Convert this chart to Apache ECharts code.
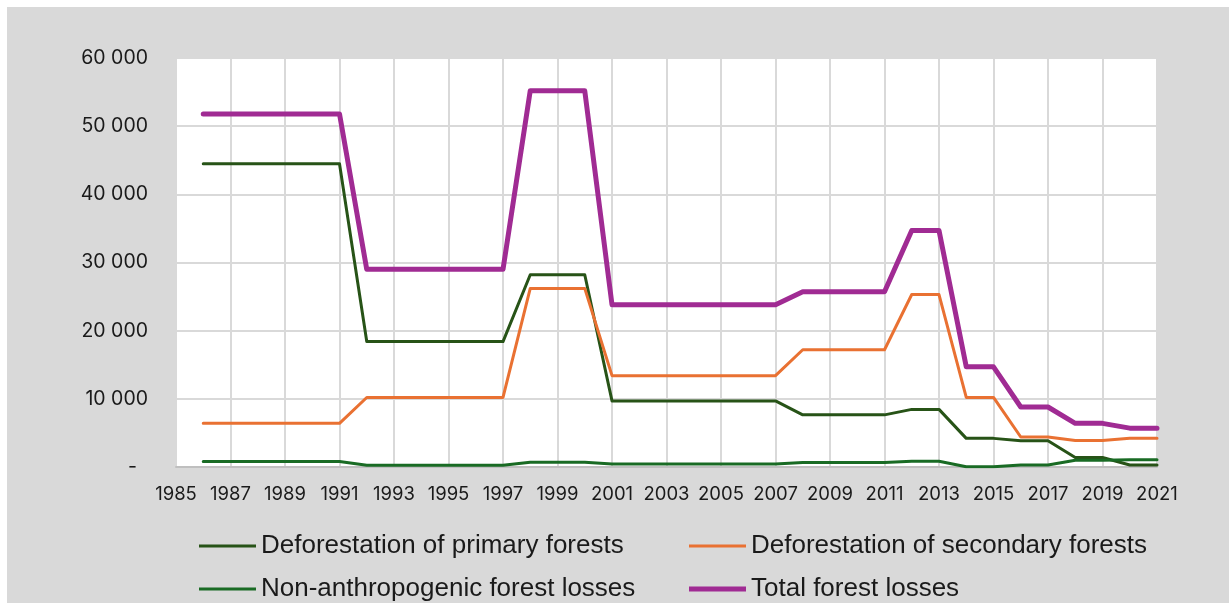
<!DOCTYPE html>
<html>
<head>
<meta charset="utf-8">
<script src="https://cdn.jsdelivr.net/npm/echarts@6/dist/echarts.min.js"></script>
<style>
html,body{margin:0;padding:0;background:#ffffff;}
#chart{width:1229px;height:603px;}
</style>
</head>
<body>
<div id="chart"></div>
<script>
const years = [1986,1987,1988,1989,1990,1991,1992,1993,1994,1995,1996,1997,1998,1999,2000,2001,2002,2003,2004,2005,2006,2007,2008,2009,2010,2011,2012,2013,2014,2015,2016,2017,2018,2019,2020,2021];
const primaryForests = [44500,44500,44500,44500,44500,44500,18400,18400,18400,18400,18400,18400,28200,28200,28200,9700,9700,9700,9700,9700,9700,9700,7650,7650,7650,7650,8450,8450,4200,4200,3850,3850,1400,1400,300,300];
const secondaryForests = [6400,6400,6400,6400,6400,6400,10200,10200,10200,10200,10200,10200,26200,26200,26200,13400,13400,13400,13400,13400,13400,13400,17200,17200,17200,17200,25300,25300,10200,10200,4400,4400,3900,3900,4200,4200];
const nonAnthropogenic = [800,800,800,800,800,800,250,250,250,250,250,250,700,700,700,450,450,450,450,450,450,450,650,650,650,650,850,850,50,50,300,300,1000,1000,1050,1050];
const totalLosses = [51800,51800,51800,51800,51800,51800,29000,29000,29000,29000,29000,29000,55200,55200,55200,23800,23800,23800,23800,23800,23800,23800,25700,25700,25700,25700,34700,34700,14700,14700,8800,8800,6400,6400,5700,5700];
const seriesNames = ['Deforestation of primary forests','Deforestation of secondary forests','Non-anthropogenic forest losses','Total forest losses'];
const xMin = 1985, xMax = 2021, xStep = 2;
const yMin = 0, yMax = 60000, yStep = 10000;

function pairs(vals){ return years.map((y,i)=>[y, vals[i]]); }
function fmtY(v){
  if (v === 0) return '-  ';
  const s = String(Math.round(v));
  return s.replace(/\B(?=(\d{3})+(?!\d))/g, ' ');
}

const colors = ['#275317','#E97132','#196B24','#A02B93'];
const widths = [3,3,3,5];
const datasets = [primaryForests, secondaryForests, nonAnthropogenic, totalLosses];

const chart = echarts.init(document.getElementById('chart'), null, {renderer:'canvas'});

const legendPos = [[194,528],[684,528],[194,571],[684,571]];
const legends = seriesNames.map((n,i)=>({
  data:[n],
  left: legendPos[i][0],
  top: legendPos[i][1],
  icon:'rect',
  itemWidth:57,
  itemHeight: i===3 ? 5 : 3,
  itemGap:0,
  selectedMode:false,
  textStyle:{fontFamily:'Liberation Sans',fontSize:26,color:'#1a1a1a'}
}));

chart.setOption({
  animation:false,
  color: colors,
  graphic:[{type:'rect',shape:{x:7,y:7,width:1222,height:596},style:{fill:'#d9d9d9'},z:-10,silent:true}],
  grid:{left:176,right:72,top:58,bottom:136,show:true,backgroundColor:'#ffffff',borderWidth:0},
  legend: legends,
  xAxis:{
    type:'value', min:xMin, max:xMax, interval:xStep,
    axisLine:{show:true,lineStyle:{color:'#bfbfbf',width:2}},
    axisTick:{show:false},
    splitLine:{show:true,lineStyle:{color:'#d9d9d9',width:2}},
    axisLabel:{fontFamily:'Inter',fontSize:18.5,color:'#1a1a1a',margin:18,formatter:v=>String(v)}
  },
  yAxis:{
    type:'value', min:yMin, max:yMax, interval:yStep,
    axisLine:{show:false},
    axisTick:{show:false},
    splitLine:{show:true,lineStyle:{color:'#d9d9d9',width:2}},
    axisLabel:{fontFamily:'Inter',fontSize:19.5,color:'#1a1a1a',margin:28,formatter:fmtY}
  },
  series: seriesNames.map((n,i)=>({
    name:n, type:'line', data:pairs(datasets[i]),
    showSymbol:false, symbol:'none',
    lineStyle:{color:colors[i],width:widths[i],cap:'round',join:'round'},
    itemStyle:{color:colors[i]},
    z: 2+i
  }))
});
</script>
</body>
</html>
